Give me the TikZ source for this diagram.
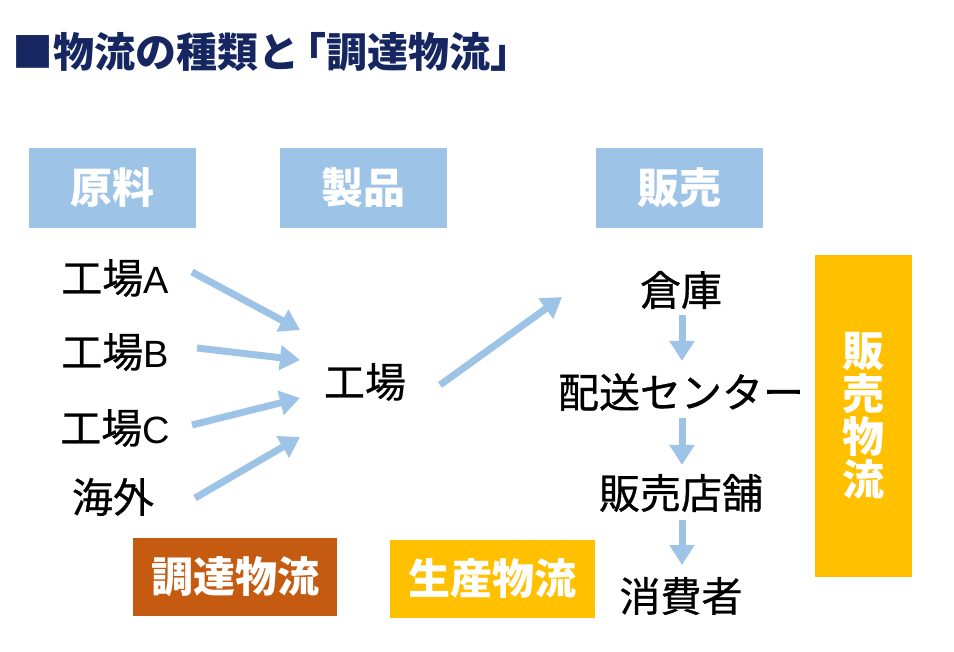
\documentclass[tikz,border=0pt]{standalone}
\usepackage{fontspec}
\setmainfont{Noto Sans CJK JP}
\newfontfamily\bodyfont[FakeBold=0.7]{Noto Sans CJK JP}
\newfontfamily\latinfont{Liberation Sans}
\usetikzlibrary{arrows.meta}
\definecolor{lb}{HTML}{9DC3E6}
\definecolor{rust}{HTML}{C55A11}
\definecolor{gold}{HTML}{FFC000}
\definecolor{navy}{RGB}{22,38,96}
\tikzset{
  hdr/.style={fill=lb, text=white, font=\fontsize{42}{46}\selectfont\bfseries, minimum width=167pt, minimum height=80pt, inner sep=0pt},
  lbl/.style={text=black, font=\fontsize{41}{44}\bodyfont, inner sep=0pt},
  tag/.style={text=white, font=\fontsize{42}{46}\selectfont\bfseries, inner sep=0pt},
  flow/.style={draw=lb, line width=7pt, -{Triangle[length=20pt,width=24pt]}},
}
\begin{document}
\begin{tikzpicture}[x=1pt,y=-1pt]
\useasboundingbox (0,0) rectangle (954,652);
% title
\node[anchor=west, text=navy, font=\fontsize{41}{44}\selectfont\bfseries, inner sep=0pt] (title) at (12,52) {■物流の種類と\kern-14pt「調達物流」};
% headers
\node[hdr] (h1) at (112.5,188) {原料};
\node[hdr] (h2) at (363.5,188) {製品};
\node[hdr] (h3) at (679.5,188) {販売};
% left labels
\node[lbl] (fa) at (115,278) {工場{\latinfont\fontsize{38}{44}\selectfont A}};
\node[lbl] (fb) at (115,352) {工場{\latinfont\fontsize{38}{44}\selectfont B}};
\node[lbl] (fc) at (115,428) {工場{\latinfont\fontsize{38}{44}\selectfont C}};
\node[lbl] (ov) at (113,497) {海外};
\node[lbl] (fac) at (365,382) {工場};
% right labels
\node[lbl] (wh) at (681,290) {倉庫};
\node[lbl] (dc) at (681,392) {配送センター};
\node[lbl] (st) at (681,493) {販売店舗};
\node[lbl] (cs) at (681,596) {消費者};
% tags
\node[tag, fill=rust, minimum width=204pt, minimum height=78pt] (t1) at (235,577) {調達物流};
\node[tag, fill=gold, minimum width=205pt, minimum height=78pt] (t2) at (492.5,579) {生産物流};
\node[tag, fill=gold, minimum width=97pt, minimum height=322pt, align=center, font=\fontsize{42}{43}\selectfont\bfseries] (t3) at (863.5,416) {販\\売\\物\\流};
% arrow end points
\coordinate (sa) at (192,272); \coordinate (ea) at (300,330);
\coordinate (sb) at (197,348); \coordinate (eb) at (300,360);
\coordinate (sc) at (192,425); \coordinate (ec) at (300,398);
\coordinate (so) at (195,498); \coordinate (eo) at (300,437);
\coordinate (sf) at (440,385); \coordinate (ef) at (562,297);
\coordinate (w1) at (682,315); \coordinate (w2) at (682,361);
\coordinate (d1) at (682,418); \coordinate (d2) at (682,465);
\coordinate (s1) at (682,520); \coordinate (s2) at (682,565);
\draw[flow] (sa) -- (ea);
\draw[flow] (sb) -- (eb);
\draw[flow] (sc) -- (ec);
\draw[flow] (so) -- (eo);
\draw[flow] (sf) -- (ef);
\draw[flow] (w1) -- (w2);
\draw[flow] (d1) -- (d2);
\draw[flow] (s1) -- (s2);
\end{tikzpicture}
\end{document}
